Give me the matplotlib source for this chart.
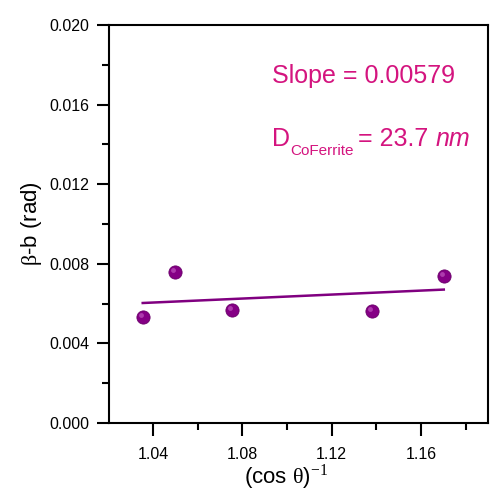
import numpy as np
from matplotlib import pyplot as plt
from matplotlib import transforms
from matplotlib.ticker import MultipleLocator

plt.rcParams['font.family'] = ['Liberation Sans', 'DejaVu Sans']
plt.rcParams['mathtext.fontset'] = 'custom'
plt.rcParams['mathtext.rm'] = 'Liberation Serif'
plt.rcParams['mathtext.it'] = 'Liberation Sans:italic'
plt.rcParams['mathtext.sf'] = 'Liberation Sans'

# data
inv_cos = np.array([1.0354, 1.0500, 1.0752, 1.1379, 1.1702])
beta_b = np.array([0.00531, 0.00759, 0.00568, 0.00563, 0.00740])
slope_text = 'Slope = 0.00579'
size_parts = ['D', 'CoFerrite', '= 23.7', 'nm']

fit = np.polyfit(inv_cos, beta_b, 1)
xfit = np.array([inv_cos.min(), inv_cos.max()])
yfit = np.polyval(fit, xfit)

fig = plt.figure(figsize=(4.92, 4.97), dpi=100)
ax = fig.add_axes([109 / 492, 1 - 423 / 497, (488 - 109) / 492, (423 - 25) / 497])

ax.plot(xfit, yfit, color='#800080', lw=1.8)
ax.plot(inv_cos, beta_b, 'o', color='#850085', markeredgecolor='#6a006a',
        markersize=9.5, markeredgewidth=0.6)
# small highlight so the dots look a bit like spheres
hl = transforms.offset_copy(ax.transData, fig=fig, x=-1.5, y=1.5, units='points')
ax.plot(inv_cos, beta_b, 'o', color='#b84ab8', markersize=3.5, markeredgewidth=0,
        alpha=0.8, transform=hl)

ax.set_xlim(1.0203, 1.19)
ax.set_ylim(0, 0.020)
ax.xaxis.set_major_locator(MultipleLocator(0.04))
ax.xaxis.set_minor_locator(MultipleLocator(0.02))
ax.yaxis.set_major_locator(MultipleLocator(0.004))
ax.yaxis.set_minor_locator(MultipleLocator(0.002))
ax.xaxis.set_major_formatter(plt.FuncFormatter(lambda v, p: f'{v:.2f}'))
ax.yaxis.set_major_formatter(plt.FuncFormatter(lambda v, p: f'{v:.3f}'))

for s in ax.spines.values():
    s.set_linewidth(1.5)
ax.tick_params(which='major', direction='out', length=9, width=1.5, labelsize=11.5, colors='black')
ax.tick_params(which='minor', direction='out', length=5, width=1.5)
ax.tick_params(axis='x', pad=8)
ax.tick_params(axis='y', pad=5)

ax.set_xlabel(r'(cos $\mathrm{\theta}$)$^{-1}$', fontsize=16)
ax.xaxis.set_label_coords(0.466, -0.1)
ax.set_ylabel(r'$\mathrm{\beta}$-b (rad)', fontsize=16, labelpad=4)

pink = '#d4147f'
ax.text(1.0933, 0.01709, slope_text, color=pink, fontsize=18, va='baseline')

# D_CoFerrite = 23.7 nm, built from pieces so the subscript can be small
t1 = ax.text(1.0933, 0.01392, size_parts[0], color=pink, fontsize=18, va='baseline')
t2 = ax.annotate(size_parts[1], xy=(1, 0), xycoords=t1, xytext=(0.5, 5),
                 textcoords='offset points', color=pink, fontsize=11, va='top')
t3 = ax.annotate(size_parts[2], xy=(1, 0), xycoords=(t2, t1), xytext=(3, 0),
                 textcoords='offset points', color=pink, fontsize=18, va='bottom')
ax.annotate(size_parts[3], xy=(1, 0), xycoords=t3, xytext=(5, 0),
            textcoords='offset points', color=pink, fontsize=18, va='bottom',
            style='italic')

fig.savefig('out.png', dpi=100)
